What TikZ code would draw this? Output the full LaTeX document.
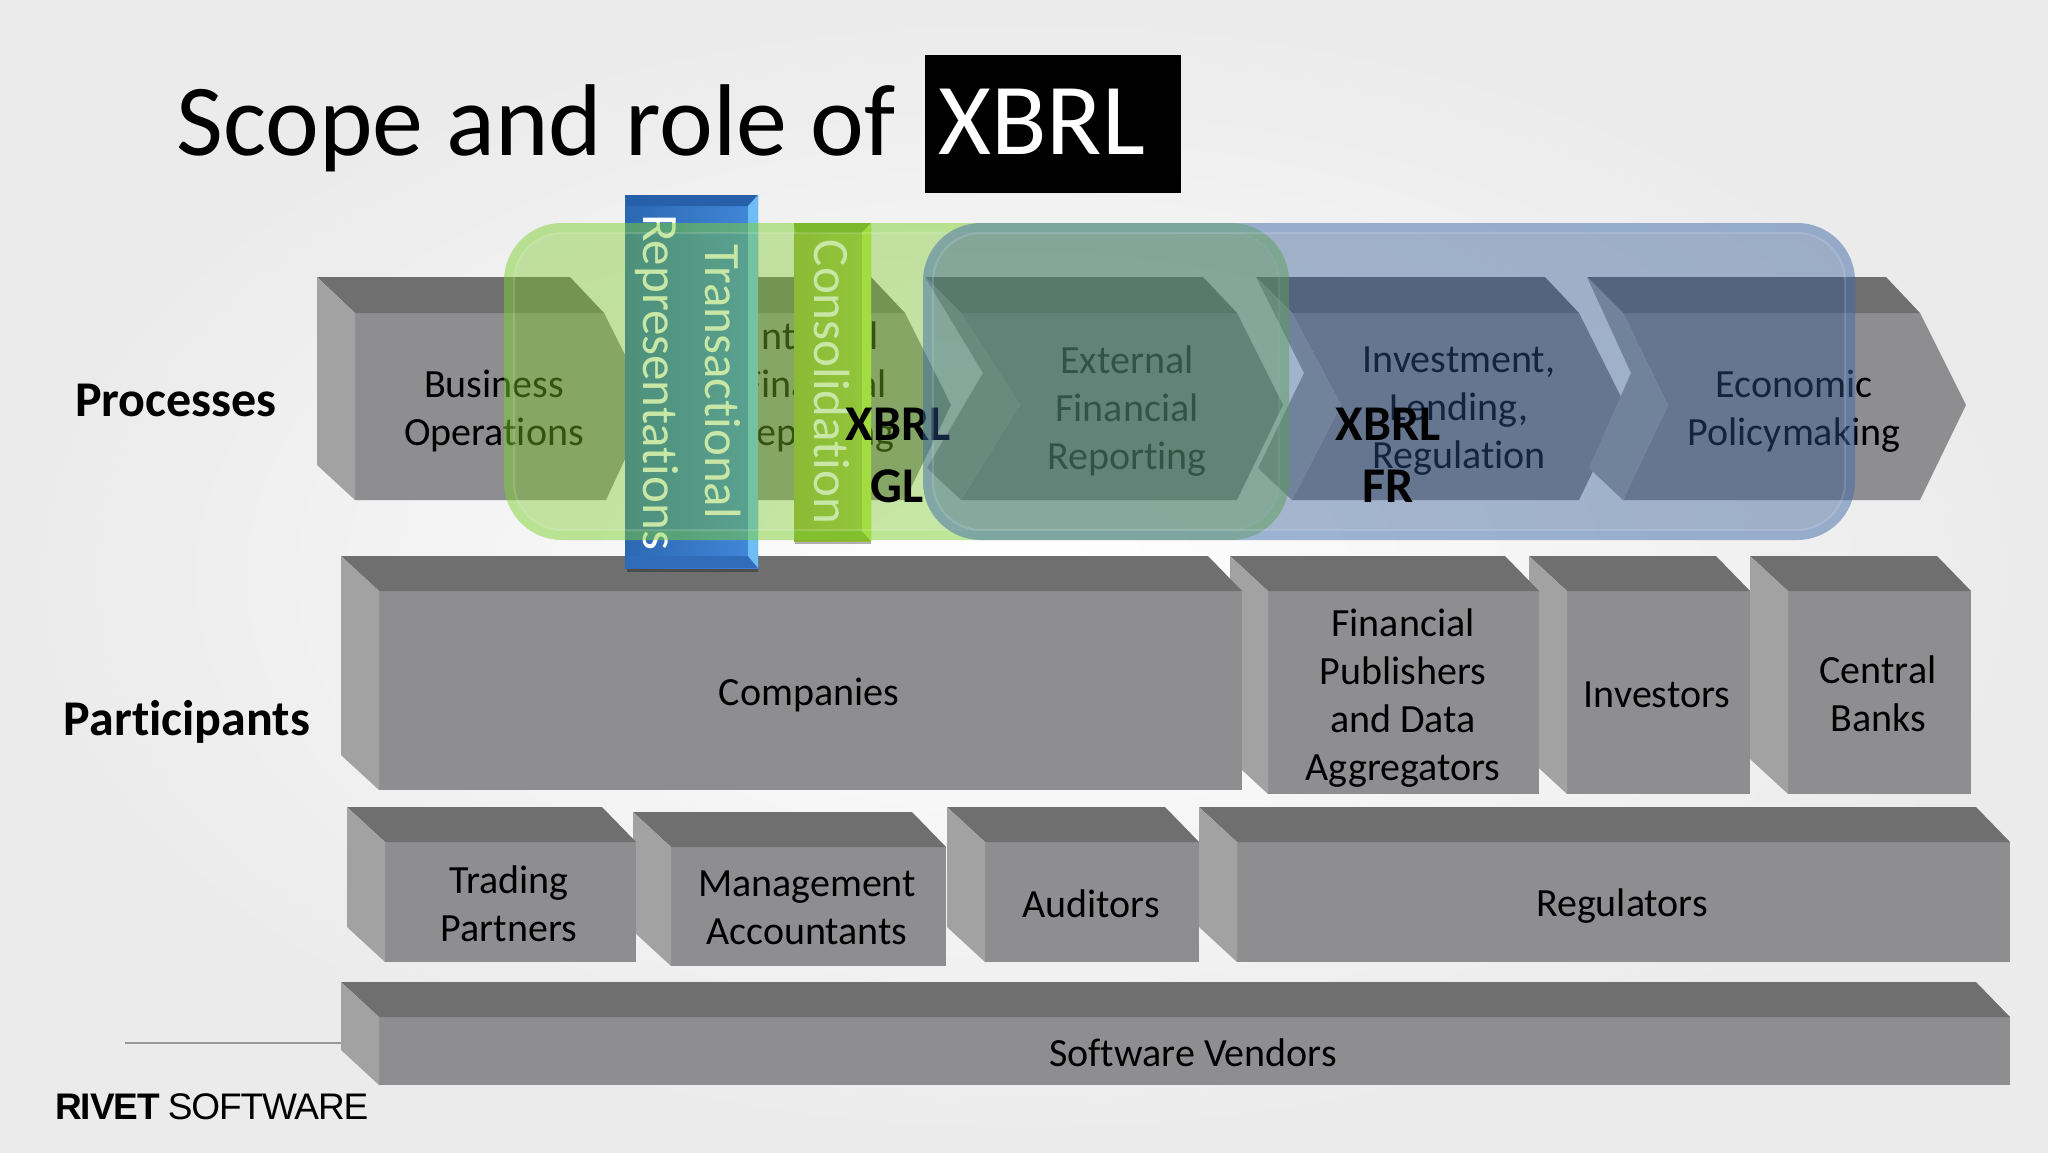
\documentclass[tikz,border=0pt]{standalone}
\usepackage{fontspec}
\setmainfont[Ligatures=NoCommon]{Carlito}
\newfontfamily\rivetfont[LetterSpace=-3]{Liberation Sans}
\definecolor{frontgray}{HTML}{8E8E90}
\definecolor{topgray}{HTML}{6F6F70}
\definecolor{leftgray}{HTML}{A2A2A3}
\definecolor{panelgreen}{RGB}{125,200,45}
\definecolor{panelblue}{RGB}{47,87,146}
\definecolor{ringgreen}{RGB}{130,235,60}
\definecolor{ringblue}{RGB}{110,160,230}
\definecolor{bbleft}{RGB}{44,104,178}
\definecolor{bbright}{RGB}{66,136,218}
\definecolor{bbtop}{RGB}{38,96,168}
\definecolor{bbedge}{RGB}{110,190,245}
\definecolor{bbbot}{RGB}{48,108,184}
\definecolor{gbleft}{RGB}{150,178,60}
\definecolor{gbright}{RGB}{165,198,72}
\definecolor{gbtop}{RGB}{120,160,40}
\definecolor{gbedge}{RGB}{190,235,80}
\definecolor{gbbot}{RGB}{135,175,50}
\tikzset{
  body/.style={font=\fontsize{40}{48}\selectfont,align=center,text=black,inner sep=0pt},
  rowlabel/.style={font=\fontsize{50}{60}\selectfont\bfseries,inner sep=0pt},
  xlabel/.style={font=\fontsize{50}{62}\selectfont\bfseries,inner sep=0pt,text=black},
  bartext/.style={font=\fontsize{51}{60}\selectfont,text=white,inner sep=0pt,rotate=-90},
}
\newcommand{\bevbox}[4]{%
  \fill[frontgray] ({#1+38},{#2+35}) rectangle (#3,#4);
  \fill[topgray] (#1,#2) -- ({#3-34},#2) -- (#3,{#2+35}) -- ({#1+38},{#2+35}) -- cycle;
  \fill[leftgray] (#1,#2) -- ({#1+38},{#2+35}) -- ({#1+38},#4) -- (#1,{#4-35}) -- cycle;
}
% #1 back-left x, #2 top-right x, #3 notch offset (back notch tip from back-left)
\newcommand{\chevshape}[3]{%
  \fill[frontgray] ({#1+36},313) -- ({#2+34},313) -- ({#2+80},405) -- ({#2+34},500) -- ({#1+36},500) -- ({#1+#3+37},405) -- cycle;
  \fill[topgray] (#1,277) -- (#2,277) -- ({#2+34},313) -- ({#1+36},313) -- cycle;
  \fill[leftgray] (#1,277) -- ({#1+#3},373) -- ({#1+2},468) -- ({#1+36},500) -- ({#1+#3+37},405) -- ({#1+36},313) -- cycle;
}
\newcommand{\panelshape}[6]{% x1 y1 x2 y2 colour ring
  \fill[#5,opacity=.42,rounded corners=58pt] (#1,#2) rectangle (#3,#4);
  \fill[#6,opacity=.14,even odd rule,rounded corners=58pt] (#1,#2) rectangle (#3,#4) [rounded corners=48pt] ({#1+10},{#2+10}) rectangle ({#3-10},{#4-10});
  \draw[white,opacity=.14,line width=2pt,rounded corners=48pt] ({#1+10},{#2+10}) rectangle ({#3-10},{#4-10});
}
\begin{document}
\begin{tikzpicture}[x=1pt,y=-1pt]
\useasboundingbox (0,0) rectangle (2048,1152);
\shade[inner color=white,outer color=black!8] (0,0) rectangle (2048,1152);

% title
\node[anchor=west,inner sep=0pt,font=\fontsize{102}{110}\selectfont] (title) at (176,128) {Scope and role of};
\fill[black] (925,55) rectangle (1181,193);
\node[anchor=west,inner sep=0pt,font=\fontsize{102}{110}\selectfont,text=white] (titlex) at (938,122) {XBRL};

% row labels
\node[rowlabel] (processes) at (176,400) {Processes};
\node[rowlabel] (participants) at (187,722) {Participants};

% footer line
\coordinate (lineA) at (125,1043);
\coordinate (lineB) at (341,1043);
\draw[black!40,line width=1.5pt] (lineA) -- (lineB);

% chevrons
\fill[frontgray] (355,313) -- (604,313) -- (650,405) -- (606,500) -- (355,500) -- cycle;
\fill[topgray] (317,277) -- (570,277) -- (604,313) -- (355,313) -- cycle;
\fill[leftgray] (317,277) -- (355,313) -- (355,500) -- (317,465) -- cycle;
\chevshape{630}{871}{48}
\chevshape{925}{1203}{58}
\chevshape{1256}{1545}{48}
\chevshape{1587}{1886}{44}
\node[body] (bizops) at (494,411) {Business\\Operations};
\node[body] (internal) at (815,387) {Internal\\Financial\\Reporting};
\node[body] (external) at (1127,411) {External\\Financial\\Reporting};
\node[body] (invest) at (1459,411) {Investment,\\Lending,\\Regulation};
\node[body] (econ) at (1794,411) {Economic\\Policymaking};

% participants (drawn right to left: each box overlaps the next one's side)
\bevbox{1750}{556}{1971}{794}
\bevbox{1529}{556}{1750}{794}
\bevbox{1230}{556}{1539}{794}
\bevbox{341}{556}{1242}{790}
\bevbox{1199}{807}{2010}{962}
\bevbox{947}{807}{1199}{962}
\bevbox{633}{812}{946}{966}
\bevbox{347}{807}{636}{962}
\bevbox{341}{982}{2010}{1085}
\node[body] (companies) at (809,695) {Companies};
\node[body] (fin) at (1403,698) {Financial\\Publishers\\and Data\\Aggregators};
\node[body] (investors) at (1657,695) {Investors};
\node[body] (central) at (1878,694) {Central\\Banks};
\node[body] (trading) at (509,904) {Trading\\Partners};
\node[body] (mgmt) at (807,908) {Management\\Accountants};
\node[body] (auditors) at (1091,904) {Auditors};
\node[body] (regulators) at (1622,906) {Regulators};
\node[body] (software) at (1193,1053) {Software Vendors};

% blue bar
\fill[black,opacity=.3] (627,568) rectangle (758,572);
\shade[left color=bbleft,right color=bbright] (625,195) rectangle (758,568);
\fill[bbtop] (625,195) -- (758,195) -- (748,206) -- (627,206) -- cycle;
\fill[bbbot] (625,568) -- (758,568) -- (748,556) -- (627,556) -- cycle;
\fill[bbedge] (758,195) -- (758,568) -- (748,556) -- (748,206) -- cycle;
\node[bartext] (repr) at (657,382) {Representations};
\node[bartext] (trans) at (723,382) {Transactional};

% consolidation bar
\fill[black,opacity=.3] (795,541) rectangle (871,544);
\shade[left color=gbleft,right color=gbright] (794,223) rectangle (871,541);
\fill[gbtop] (794,223) -- (871,223) -- (862,233) -- (796,233) -- cycle;
\fill[gbbot] (794,541) -- (871,541) -- (862,531) -- (796,531) -- cycle;
\fill[gbedge] (871,223) -- (871,541) -- (862,531) -- (862,233) -- cycle;
\node[bartext] (cons) at (832,382) {Consolidation};

% panels
\panelshape{504}{223}{1289}{540}{panelgreen}{ringgreen}
\node[xlabel] (xgl1) at (898,424) {XBRL};
\node[xlabel] (xgl2) at (897,486) {GL};
\panelshape{923}{223}{1855}{540}{panelblue}{ringblue}
\node[xlabel] (xfr1) at (1388,424) {XBRL};
\node[xlabel] (xfr2) at (1388,486) {FR};

% logo
\node[anchor=west,inner sep=0pt,font=\fontsize{37}{40}\selectfont\rivetfont] (logo) at (55,1107) {\textbf{RIVET} SOFTWARE};
\end{tikzpicture}
\end{document}
